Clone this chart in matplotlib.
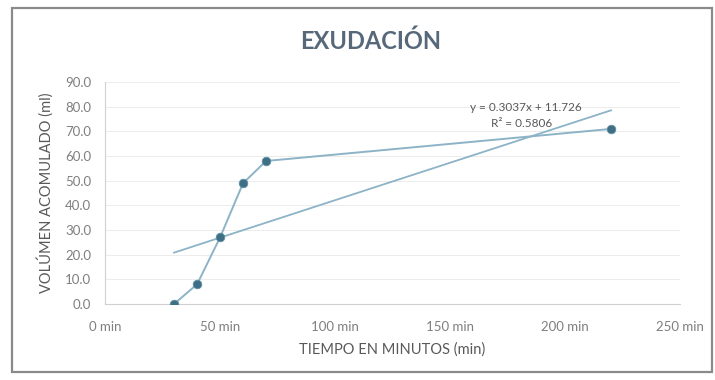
import matplotlib

matplotlib.use("Agg")
import matplotlib.pyplot as plt  # noqa: E402
import numpy as np  # noqa: E402
from matplotlib.patches import Rectangle  # noqa: E402
from matplotlib.ticker import FuncFormatter, MultipleLocator  # noqa: E402

# Volumen acumulado de exudación
tiempo_min = [30, 40, 50, 60, 70, 220]
volumen_ml = [0.0, 8.0, 27.0, 49.0, 58.0, 71.0]

# Línea de tendencia (regresión lineal) tal como la reporta la hoja
pendiente = 0.3037
intercepto = 11.726
r2 = 0.5806

plt.rcParams["font.family"] = ["Lato", "DejaVu Sans"]

TXT = "#7f7f7f"
SERIE = "#8db3c7"
MARCA = "#3f6f84"

fig = plt.figure(figsize=(7.15, 3.8), dpi=100)
ax = fig.add_axes([0.147, 0.2, 0.804, 0.584])

# marco exterior del gráfico
fig.patches.append(
    Rectangle((12 / 715, 8 / 380), 700 / 715, 364 / 380, transform=fig.transFigure,
              fill=False, edgecolor="#8a8a8a", linewidth=1.6)
)

ax.plot(tiempo_min, volumen_ml, color=SERIE, linewidth=1.4, zorder=3)
ax.scatter(tiempo_min, volumen_ml, s=38, color=MARCA, edgecolor="#5f8fa3",
           linewidth=0.6, zorder=4)

xt = np.array([min(tiempo_min), max(tiempo_min)])
ax.plot(xt, pendiente * xt + intercepto, color=SERIE, linewidth=1.3, zorder=2)

ax.text(183, 79.5, f"y = {pendiente}x + {intercepto}", ha="center", va="center",
        fontsize=8.5, color="#595959", zorder=5)
ax.text(181, 73.4, f"R² = {r2}", ha="center", va="center", fontsize=8.5,
        color="#595959", zorder=5)

ax.set_xlim(0, 250)
ax.set_ylim(0, 90)
ax.xaxis.set_major_locator(MultipleLocator(50))
ax.yaxis.set_major_locator(MultipleLocator(10))
ax.xaxis.set_major_formatter(FuncFormatter(lambda v, _: f"{v:.0f} min"))
ax.yaxis.set_major_formatter(FuncFormatter(lambda v, _: f"{v:.1f}"))
ax.tick_params(axis="both", length=0, labelsize=9.5, colors=TXT)
ax.tick_params(axis="x", pad=12)
ax.tick_params(axis="y", pad=10)

ax.grid(axis="y", color="#ececec", linewidth=0.7)
ax.set_axisbelow(True)
for side in ("top", "right"):
    ax.spines[side].set_visible(False)
for side in ("left", "bottom"):
    ax.spines[side].set_color("#d0d0d0")
    ax.spines[side].set_linewidth(0.8)

ax.set_xlabel("TIEMPO EN MINUTOS (min)", fontsize=10.5, color="#595959", labelpad=7)
ax.set_ylabel("VOLÚMEN ACOMULADO (ml)", fontsize=10.5, color="#595959", labelpad=8)

fig.text(0.518, 1 - 41 / 380, "EXUDACIÓN", ha="center", va="center",
         fontsize=17, fontweight="bold", color="#56687a")

fig.savefig("out.png", dpi=100, facecolor="white")
